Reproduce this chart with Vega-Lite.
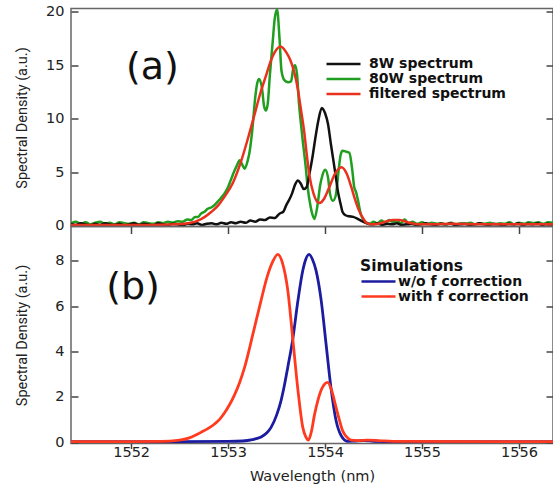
{
  "$schema": "https://vega.github.io/schema/vega-lite/v6.json",
  "background": "white",
  "padding": {"left": 13, "top": 2.5, "right": 0, "bottom": 0},
  "spacing": 0,
  "bounds": "flush",
  "config": {
    "view": {"stroke": "#666", "strokeWidth": 1.5},
    "axis": {"domain": false, "grid": false, "labelFont": "DejaVu Sans", "labelFontSize": 14.5, "labelColor": "#222", "titleFont": "Roboto", "titleFontSize": 14.5, "titleFontWeight": "normal", "titleColor": "#222", "tickColor": "#444", "tickWidth": 1.5}
  },
  "datasets": {
    "top": [
      {"w":1551.38,"v":0.2,"s":"80W spectrum"},{"w":1551.43,"v":0.35,"s":"80W spectrum"},{"w":1551.48,"v":0.15,"s":"80W spectrum"},{"w":1551.53,"v":0.3,"s":"80W spectrum"},{"w":1551.58,"v":0.1,"s":"80W spectrum"},{"w":1551.63,"v":0.25,"s":"80W spectrum"},{"w":1551.68,"v":0.35,"s":"80W spectrum"},{"w":1551.73,"v":0.15,"s":"80W spectrum"},{"w":1551.78,"v":0.25,"s":"80W spectrum"},{"w":1551.83,"v":0.1,"s":"80W spectrum"},{"w":1551.88,"v":0.3,"s":"80W spectrum"},{"w":1551.93,"v":0.2,"s":"80W spectrum"},{"w":1551.98,"v":0.15,"s":"80W spectrum"},{"w":1552.03,"v":0.25,"s":"80W spectrum"},{"w":1552.08,"v":0.1,"s":"80W spectrum"},{"w":1552.13,"v":0.3,"s":"80W spectrum"},{"w":1552.18,"v":0.2,"s":"80W spectrum"},{"w":1552.23,"v":0.15,"s":"80W spectrum"},{"w":1552.28,"v":0.3,"s":"80W spectrum"},{"w":1552.33,"v":0.2,"s":"80W spectrum"},{"w":1552.38,"v":0.35,"s":"80W spectrum"},{"w":1552.43,"v":0.25,"s":"80W spectrum"},{"w":1552.48,"v":0.4,"s":"80W spectrum"},{"w":1552.53,"v":0.35,"s":"80W spectrum"},{"w":1552.58,"v":0.55,"s":"80W spectrum"},{"w":1552.62,"v":0.5,"s":"80W spectrum"},{"w":1552.66,"v":0.8,"s":"80W spectrum"},{"w":1552.69,"v":0.8,"s":"80W spectrum"},{"w":1552.72,"v":1.1,"s":"80W spectrum"},{"w":1552.76,"v":1.3,"s":"80W spectrum"},{"w":1552.79,"v":1.56,"s":"80W spectrum"},{"w":1552.83,"v":1.7,"s":"80W spectrum"},{"w":1552.87,"v":2.0,"s":"80W spectrum"},{"w":1552.9,"v":2.3,"s":"80W spectrum"},{"w":1552.93,"v":2.6,"s":"80W spectrum"},{"w":1552.97,"v":3.1,"s":"80W spectrum"},{"w":1553.0,"v":3.6,"s":"80W spectrum"},{"w":1553.03,"v":4.3,"s":"80W spectrum"},{"w":1553.06,"v":5.0,"s":"80W spectrum"},{"w":1553.09,"v":5.6,"s":"80W spectrum"},{"w":1553.12,"v":6.1,"s":"80W spectrum"},{"w":1553.15,"v":5.6,"s":"80W spectrum"},{"w":1553.17,"v":5.3,"s":"80W spectrum"},{"w":1553.2,"v":6.0,"s":"80W spectrum"},{"w":1553.22,"v":6.8,"s":"80W spectrum"},{"w":1553.25,"v":9.0,"s":"80W spectrum"},{"w":1553.28,"v":12.0,"s":"80W spectrum"},{"w":1553.3,"v":13.3,"s":"80W spectrum"},{"w":1553.32,"v":13.7,"s":"80W spectrum"},{"w":1553.35,"v":12.8,"s":"80W spectrum"},{"w":1553.37,"v":11.2,"s":"80W spectrum"},{"w":1553.39,"v":10.75,"s":"80W spectrum"},{"w":1553.41,"v":11.5,"s":"80W spectrum"},{"w":1553.43,"v":14.0,"s":"80W spectrum"},{"w":1553.46,"v":17.2,"s":"80W spectrum"},{"w":1553.48,"v":19.3,"s":"80W spectrum"},{"w":1553.505,"v":20.2,"s":"80W spectrum"},{"w":1553.53,"v":17.5,"s":"80W spectrum"},{"w":1553.55,"v":14.5,"s":"80W spectrum"},{"w":1553.58,"v":13.6,"s":"80W spectrum"},{"w":1553.62,"v":13.4,"s":"80W spectrum"},{"w":1553.65,"v":13.5,"s":"80W spectrum"},{"w":1553.67,"v":14.6,"s":"80W spectrum"},{"w":1553.69,"v":15.0,"s":"80W spectrum"},{"w":1553.71,"v":14.2,"s":"80W spectrum"},{"w":1553.73,"v":11.5,"s":"80W spectrum"},{"w":1553.75,"v":9.6,"s":"80W spectrum"},{"w":1553.77,"v":7.9,"s":"80W spectrum"},{"w":1553.8,"v":5.5,"s":"80W spectrum"},{"w":1553.82,"v":3.6,"s":"80W spectrum"},{"w":1553.85,"v":1.8,"s":"80W spectrum"},{"w":1553.87,"v":1.0,"s":"80W spectrum"},{"w":1553.89,"v":0.6,"s":"80W spectrum"},{"w":1553.92,"v":1.8,"s":"80W spectrum"},{"w":1553.95,"v":3.8,"s":"80W spectrum"},{"w":1553.97,"v":4.6,"s":"80W spectrum"},{"w":1554.0,"v":5.2,"s":"80W spectrum"},{"w":1554.03,"v":4.5,"s":"80W spectrum"},{"w":1554.05,"v":3.0,"s":"80W spectrum"},{"w":1554.08,"v":2.3,"s":"80W spectrum"},{"w":1554.11,"v":2.8,"s":"80W spectrum"},{"w":1554.14,"v":5.2,"s":"80W spectrum"},{"w":1554.16,"v":6.6,"s":"80W spectrum"},{"w":1554.18,"v":7.0,"s":"80W spectrum"},{"w":1554.22,"v":6.9,"s":"80W spectrum"},{"w":1554.25,"v":6.8,"s":"80W spectrum"},{"w":1554.28,"v":5.2,"s":"80W spectrum"},{"w":1554.3,"v":3.6,"s":"80W spectrum"},{"w":1554.32,"v":3.1,"s":"80W spectrum"},{"w":1554.34,"v":2.3,"s":"80W spectrum"},{"w":1554.37,"v":1.0,"s":"80W spectrum"},{"w":1554.4,"v":0.5,"s":"80W spectrum"},{"w":1554.42,"v":0.3,"s":"80W spectrum"},{"w":1554.46,"v":0.15,"s":"80W spectrum"},{"w":1554.5,"v":0.35,"s":"80W spectrum"},{"w":1554.54,"v":0.2,"s":"80W spectrum"},{"w":1554.58,"v":0.45,"s":"80W spectrum"},{"w":1554.62,"v":0.25,"s":"80W spectrum"},{"w":1554.66,"v":0.5,"s":"80W spectrum"},{"w":1554.7,"v":0.3,"s":"80W spectrum"},{"w":1554.74,"v":0.45,"s":"80W spectrum"},{"w":1554.78,"v":0.2,"s":"80W spectrum"},{"w":1554.82,"v":0.55,"s":"80W spectrum"},{"w":1554.86,"v":0.2,"s":"80W spectrum"},{"w":1554.9,"v":0.35,"s":"80W spectrum"},{"w":1554.95,"v":0.15,"s":"80W spectrum"},{"w":1555.0,"v":0.3,"s":"80W spectrum"},{"w":1555.05,"v":0.1,"s":"80W spectrum"},{"w":1555.1,"v":0.25,"s":"80W spectrum"},{"w":1555.15,"v":0.15,"s":"80W spectrum"},{"w":1555.2,"v":0.2,"s":"80W spectrum"},{"w":1555.25,"v":0.1,"s":"80W spectrum"},{"w":1555.3,"v":0.25,"s":"80W spectrum"},{"w":1555.35,"v":0.1,"s":"80W spectrum"},{"w":1555.4,"v":0.2,"s":"80W spectrum"},{"w":1555.45,"v":0.15,"s":"80W spectrum"},{"w":1555.5,"v":0.25,"s":"80W spectrum"},{"w":1555.55,"v":0.1,"s":"80W spectrum"},{"w":1555.6,"v":0.2,"s":"80W spectrum"},{"w":1555.65,"v":0.15,"s":"80W spectrum"},{"w":1555.7,"v":0.25,"s":"80W spectrum"},{"w":1555.75,"v":0.1,"s":"80W spectrum"},{"w":1555.8,"v":0.2,"s":"80W spectrum"},{"w":1555.85,"v":0.15,"s":"80W spectrum"},{"w":1555.9,"v":0.3,"s":"80W spectrum"},{"w":1555.95,"v":0.1,"s":"80W spectrum"},{"w":1556.0,"v":0.25,"s":"80W spectrum"},{"w":1556.05,"v":0.15,"s":"80W spectrum"},{"w":1556.1,"v":0.3,"s":"80W spectrum"},{"w":1556.15,"v":0.2,"s":"80W spectrum"},{"w":1556.2,"v":0.3,"s":"80W spectrum"},{"w":1556.25,"v":0.15,"s":"80W spectrum"},{"w":1556.3,"v":0.3,"s":"80W spectrum"},{"w":1556.35,"v":0.25,"s":"80W spectrum"},

      {"w":1551.38,"v":0.15,"s":"8W spectrum"},{"w":1551.43,"v":0.05,"s":"8W spectrum"},{"w":1551.48,"v":0.2,"s":"8W spectrum"},{"w":1551.53,"v":0.1,"s":"8W spectrum"},{"w":1551.58,"v":0.0,"s":"8W spectrum"},{"w":1551.63,"v":0.15,"s":"8W spectrum"},{"w":1551.68,"v":0.05,"s":"8W spectrum"},{"w":1551.73,"v":0.2,"s":"8W spectrum"},{"w":1551.78,"v":0.1,"s":"8W spectrum"},{"w":1551.83,"v":0.05,"s":"8W spectrum"},{"w":1551.88,"v":0.15,"s":"8W spectrum"},{"w":1551.93,"v":0.0,"s":"8W spectrum"},{"w":1551.98,"v":0.1,"s":"8W spectrum"},{"w":1552.03,"v":0.2,"s":"8W spectrum"},{"w":1552.08,"v":0.05,"s":"8W spectrum"},{"w":1552.13,"v":0.15,"s":"8W spectrum"},{"w":1552.18,"v":0.1,"s":"8W spectrum"},{"w":1552.23,"v":0.0,"s":"8W spectrum"},{"w":1552.28,"v":0.2,"s":"8W spectrum"},{"w":1552.33,"v":0.1,"s":"8W spectrum"},{"w":1552.38,"v":0.05,"s":"8W spectrum"},{"w":1552.43,"v":0.15,"s":"8W spectrum"},{"w":1552.48,"v":0.1,"s":"8W spectrum"},{"w":1552.53,"v":0.0,"s":"8W spectrum"},{"w":1552.58,"v":0.15,"s":"8W spectrum"},{"w":1552.63,"v":0.1,"s":"8W spectrum"},{"w":1552.68,"v":0.2,"s":"8W spectrum"},{"w":1552.73,"v":0.05,"s":"8W spectrum"},{"w":1552.78,"v":0.15,"s":"8W spectrum"},{"w":1552.83,"v":0.2,"s":"8W spectrum"},{"w":1552.88,"v":0.1,"s":"8W spectrum"},{"w":1552.93,"v":0.25,"s":"8W spectrum"},{"w":1552.98,"v":0.15,"s":"8W spectrum"},{"w":1553.03,"v":0.3,"s":"8W spectrum"},{"w":1553.08,"v":0.2,"s":"8W spectrum"},{"w":1553.13,"v":0.35,"s":"8W spectrum"},{"w":1553.18,"v":0.25,"s":"8W spectrum"},{"w":1553.23,"v":0.45,"s":"8W spectrum"},{"w":1553.28,"v":0.35,"s":"8W spectrum"},{"w":1553.33,"v":0.55,"s":"8W spectrum"},{"w":1553.38,"v":0.5,"s":"8W spectrum"},{"w":1553.43,"v":0.75,"s":"8W spectrum"},{"w":1553.48,"v":0.7,"s":"8W spectrum"},{"w":1553.53,"v":1.1,"s":"8W spectrum"},{"w":1553.57,"v":1.3,"s":"8W spectrum"},{"w":1553.6,"v":1.9,"s":"8W spectrum"},{"w":1553.63,"v":2.4,"s":"8W spectrum"},{"w":1553.66,"v":3.0,"s":"8W spectrum"},{"w":1553.69,"v":3.8,"s":"8W spectrum"},{"w":1553.72,"v":4.2,"s":"8W spectrum"},{"w":1553.75,"v":3.9,"s":"8W spectrum"},{"w":1553.78,"v":3.4,"s":"8W spectrum"},{"w":1553.81,"v":3.6,"s":"8W spectrum"},{"w":1553.84,"v":4.9,"s":"8W spectrum"},{"w":1553.87,"v":6.4,"s":"8W spectrum"},{"w":1553.9,"v":8.2,"s":"8W spectrum"},{"w":1553.93,"v":9.8,"s":"8W spectrum"},{"w":1553.966,"v":11.0,"s":"8W spectrum"},{"w":1554.0,"v":10.5,"s":"8W spectrum"},{"w":1554.03,"v":9.5,"s":"8W spectrum"},{"w":1554.06,"v":7.6,"s":"8W spectrum"},{"w":1554.08,"v":6.4,"s":"8W spectrum"},{"w":1554.11,"v":4.6,"s":"8W spectrum"},{"w":1554.13,"v":3.3,"s":"8W spectrum"},{"w":1554.16,"v":2.0,"s":"8W spectrum"},{"w":1554.18,"v":1.25,"s":"8W spectrum"},{"w":1554.21,"v":0.95,"s":"8W spectrum"},{"w":1554.25,"v":0.85,"s":"8W spectrum"},{"w":1554.29,"v":0.8,"s":"8W spectrum"},{"w":1554.34,"v":0.6,"s":"8W spectrum"},{"w":1554.39,"v":0.35,"s":"8W spectrum"},{"w":1554.44,"v":0.15,"s":"8W spectrum"},{"w":1554.49,"v":0.1,"s":"8W spectrum"},{"w":1554.54,"v":0.2,"s":"8W spectrum"},{"w":1554.59,"v":0.05,"s":"8W spectrum"},{"w":1554.64,"v":0.15,"s":"8W spectrum"},{"w":1554.69,"v":0.1,"s":"8W spectrum"},{"w":1554.74,"v":0.2,"s":"8W spectrum"},{"w":1554.79,"v":0.05,"s":"8W spectrum"},{"w":1554.84,"v":0.1,"s":"8W spectrum"},{"w":1554.89,"v":0.15,"s":"8W spectrum"},{"w":1554.94,"v":0.05,"s":"8W spectrum"},{"w":1554.99,"v":0.1,"s":"8W spectrum"},{"w":1555.04,"v":0.2,"s":"8W spectrum"},{"w":1555.09,"v":0.1,"s":"8W spectrum"},{"w":1555.14,"v":0.05,"s":"8W spectrum"},{"w":1555.19,"v":0.15,"s":"8W spectrum"},{"w":1555.24,"v":0.1,"s":"8W spectrum"},{"w":1555.29,"v":0.2,"s":"8W spectrum"},{"w":1555.34,"v":0.05,"s":"8W spectrum"},{"w":1555.39,"v":0.1,"s":"8W spectrum"},{"w":1555.44,"v":0.15,"s":"8W spectrum"},{"w":1555.49,"v":0.05,"s":"8W spectrum"},{"w":1555.54,"v":0.1,"s":"8W spectrum"},{"w":1555.59,"v":0.2,"s":"8W spectrum"},{"w":1555.64,"v":0.1,"s":"8W spectrum"},{"w":1555.69,"v":0.05,"s":"8W spectrum"},{"w":1555.74,"v":0.15,"s":"8W spectrum"},{"w":1555.79,"v":0.1,"s":"8W spectrum"},{"w":1555.84,"v":0.0,"s":"8W spectrum"},{"w":1555.89,"v":0.15,"s":"8W spectrum"},{"w":1555.94,"v":0.1,"s":"8W spectrum"},{"w":1555.99,"v":0.2,"s":"8W spectrum"},{"w":1556.04,"v":0.05,"s":"8W spectrum"},{"w":1556.09,"v":0.15,"s":"8W spectrum"},{"w":1556.14,"v":0.1,"s":"8W spectrum"},{"w":1556.19,"v":0.2,"s":"8W spectrum"},{"w":1556.24,"v":0.05,"s":"8W spectrum"},{"w":1556.29,"v":0.15,"s":"8W spectrum"},{"w":1556.35,"v":0.1,"s":"8W spectrum"},

      {"w":1551.38,"v":0.05,"s":"filtered spectrum"},{"w":1551.8,"v":0.05,"s":"filtered spectrum"},{"w":1552.2,"v":0.05,"s":"filtered spectrum"},{"w":1552.4,"v":0.08,"s":"filtered spectrum"},{"w":1552.5,"v":0.13,"s":"filtered spectrum"},{"w":1552.6,"v":0.22,"s":"filtered spectrum"},{"w":1552.7,"v":0.5,"s":"filtered spectrum"},{"w":1552.76,"v":0.8,"s":"filtered spectrum"},{"w":1552.825,"v":1.25,"s":"filtered spectrum"},{"w":1552.9,"v":1.9,"s":"filtered spectrum"},{"w":1552.96,"v":2.65,"s":"filtered spectrum"},{"w":1553.05,"v":4.0,"s":"filtered spectrum"},{"w":1553.13,"v":5.9,"s":"filtered spectrum"},{"w":1553.2,"v":8.0,"s":"filtered spectrum"},{"w":1553.27,"v":10.3,"s":"filtered spectrum"},{"w":1553.33,"v":12.3,"s":"filtered spectrum"},{"w":1553.39,"v":14.0,"s":"filtered spectrum"},{"w":1553.44,"v":15.4,"s":"filtered spectrum"},{"w":1553.48,"v":16.2,"s":"filtered spectrum"},{"w":1553.54,"v":16.75,"s":"filtered spectrum"},{"w":1553.6,"v":16.2,"s":"filtered spectrum"},{"w":1553.64,"v":15.5,"s":"filtered spectrum"},{"w":1553.68,"v":14.4,"s":"filtered spectrum"},{"w":1553.72,"v":12.7,"s":"filtered spectrum"},{"w":1553.75,"v":10.9,"s":"filtered spectrum"},{"w":1553.787,"v":8.6,"s":"filtered spectrum"},{"w":1553.81,"v":6.7,"s":"filtered spectrum"},{"w":1553.84,"v":4.6,"s":"filtered spectrum"},{"w":1553.88,"v":3.0,"s":"filtered spectrum"},{"w":1553.94,"v":2.1,"s":"filtered spectrum"},{"w":1553.99,"v":2.5,"s":"filtered spectrum"},{"w":1554.04,"v":3.5,"s":"filtered spectrum"},{"w":1554.1,"v":4.8,"s":"filtered spectrum"},{"w":1554.17,"v":5.45,"s":"filtered spectrum"},{"w":1554.22,"v":4.9,"s":"filtered spectrum"},{"w":1554.27,"v":3.6,"s":"filtered spectrum"},{"w":1554.31,"v":2.4,"s":"filtered spectrum"},{"w":1554.35,"v":1.4,"s":"filtered spectrum"},{"w":1554.39,"v":0.7,"s":"filtered spectrum"},{"w":1554.42,"v":0.3,"s":"filtered spectrum"},{"w":1554.47,"v":0.1,"s":"filtered spectrum"},{"w":1554.55,"v":0.15,"s":"filtered spectrum"},{"w":1554.62,"v":0.35,"s":"filtered spectrum"},{"w":1554.7,"v":0.52,"s":"filtered spectrum"},{"w":1554.77,"v":0.5,"s":"filtered spectrum"},{"w":1554.85,"v":0.3,"s":"filtered spectrum"},{"w":1554.95,"v":0.12,"s":"filtered spectrum"},{"w":1555.1,"v":0.1,"s":"filtered spectrum"},{"w":1555.3,"v":0.15,"s":"filtered spectrum"},{"w":1555.6,"v":0.1,"s":"filtered spectrum"},{"w":1556.35,"v":0.1,"s":"filtered spectrum"}
    ],
    "bottom": [
      {"w":1551.38,"v":0.03,"s":"w/o f correction"},{"w":1552.5,"v":0.03,"s":"w/o f correction"},{"w":1553.0,"v":0.04,"s":"w/o f correction"},{"w":1553.15,"v":0.06,"s":"w/o f correction"},{"w":1553.25,"v":0.12,"s":"w/o f correction"},{"w":1553.34,"v":0.24,"s":"w/o f correction"},{"w":1553.4,"v":0.42,"s":"w/o f correction"},{"w":1553.443,"v":0.66,"s":"w/o f correction"},{"w":1553.5,"v":1.2,"s":"w/o f correction"},{"w":1553.546,"v":1.84,"s":"w/o f correction"},{"w":1553.58,"v":2.5,"s":"w/o f correction"},{"w":1553.615,"v":3.3,"s":"w/o f correction"},{"w":1553.667,"v":4.55,"s":"w/o f correction"},{"w":1553.72,"v":6.24,"s":"w/o f correction"},{"w":1553.77,"v":7.56,"s":"w/o f correction"},{"w":1553.8,"v":8.05,"s":"w/o f correction"},{"w":1553.835,"v":8.27,"s":"w/o f correction"},{"w":1553.87,"v":8.05,"s":"w/o f correction"},{"w":1553.907,"v":7.56,"s":"w/o f correction"},{"w":1553.96,"v":6.24,"s":"w/o f correction"},{"w":1554.01,"v":4.33,"s":"w/o f correction"},{"w":1554.06,"v":2.42,"s":"w/o f correction"},{"w":1554.113,"v":0.96,"s":"w/o f correction"},{"w":1554.165,"v":0.3,"s":"w/o f correction"},{"w":1554.23,"v":0.05,"s":"w/o f correction"},{"w":1554.3,"v":0.06,"s":"w/o f correction"},{"w":1554.4,"v":0.08,"s":"w/o f correction"},{"w":1554.5,"v":0.05,"s":"w/o f correction"},{"w":1554.7,"v":0.03,"s":"w/o f correction"},{"w":1556.35,"v":0.03,"s":"w/o f correction"},

      {"w":1551.38,"v":0.03,"s":"with f correction"},{"w":1552.0,"v":0.03,"s":"with f correction"},{"w":1552.3,"v":0.04,"s":"with f correction"},{"w":1552.5,"v":0.1,"s":"with f correction"},{"w":1552.6,"v":0.2,"s":"with f correction"},{"w":1552.72,"v":0.44,"s":"with f correction"},{"w":1552.86,"v":0.81,"s":"with f correction"},{"w":1552.91,"v":1.0,"s":"with f correction"},{"w":1552.96,"v":1.28,"s":"with f correction"},{"w":1553.01,"v":1.62,"s":"with f correction"},{"w":1553.065,"v":2.08,"s":"with f correction"},{"w":1553.12,"v":2.65,"s":"with f correction"},{"w":1553.17,"v":3.3,"s":"with f correction"},{"w":1553.255,"v":4.75,"s":"with f correction"},{"w":1553.34,"v":6.25,"s":"with f correction"},{"w":1553.4,"v":7.25,"s":"with f correction"},{"w":1553.46,"v":7.95,"s":"with f correction"},{"w":1553.512,"v":8.27,"s":"with f correction"},{"w":1553.56,"v":7.9,"s":"with f correction"},{"w":1553.615,"v":6.7,"s":"with f correction"},{"w":1553.667,"v":4.55,"s":"with f correction"},{"w":1553.72,"v":2.3,"s":"with f correction"},{"w":1553.77,"v":0.66,"s":"with f correction"},{"w":1553.8,"v":0.25,"s":"with f correction"},{"w":1553.828,"v":0.1,"s":"with f correction"},{"w":1553.86,"v":0.5,"s":"with f correction"},{"w":1553.89,"v":1.2,"s":"with f correction"},{"w":1553.925,"v":1.84,"s":"with f correction"},{"w":1553.97,"v":2.4,"s":"with f correction"},{"w":1554.027,"v":2.64,"s":"with f correction"},{"w":1554.07,"v":2.25,"s":"with f correction"},{"w":1554.113,"v":1.54,"s":"with f correction"},{"w":1554.15,"v":0.95,"s":"with f correction"},{"w":1554.18,"v":0.52,"s":"with f correction"},{"w":1554.22,"v":0.25,"s":"with f correction"},{"w":1554.268,"v":0.1,"s":"with f correction"},{"w":1554.33,"v":0.08,"s":"with f correction"},{"w":1554.44,"v":0.1,"s":"with f correction"},{"w":1554.55,"v":0.08,"s":"with f correction"},{"w":1554.7,"v":0.04,"s":"with f correction"},{"w":1556.35,"v":0.03,"s":"with f correction"}
    ]
  },
  "vconcat": [
    {
      "width": 482,
      "height": 218,
      "layer": [
        {
          "data": {"name": "top"},
          "transform": [{"filter": "datum.s !== 'filtered spectrum'"}],
          "mark": {"type": "line", "strokeWidth": 2.5, "interpolate": "monotone", "clip": true},
          "encoding": {
            "x": {"field": "w", "type": "quantitative", "scale": {"domain": [1551.38, 1556.35], "nice": false, "zero": false},
                  "axis": {"orient": "top", "values": [1552, 1553, 1554, 1555, 1556], "labels": false, "title": null, "tickSize": -7}},
            "y": {"field": "v", "type": "quantitative", "scale": {"domain": [-0.1, 20.3], "nice": false, "zero": false},
                  "axis": {"orient": "left", "values": [0, 5, 10, 15, 20], "title": "Spectral Density (a.u.)", "tickSize": -7, "labelPadding": 14, "minExtent": 30, "maxExtent": 30, "titlePadding": 12}},
            "color": {"field": "s", "type": "nominal",
                      "scale": {"domain": ["8W spectrum", "80W spectrum", "filtered spectrum"], "range": ["#111111", "#1f9e1f", "#e8321e"]},
                      "legend": {"orient": "none", "legendX": 254, "legendY": 48, "title": null, "padding": 0, "symbolType": "M-1,0L4.667,0", "symbolSize": 144, "symbolStrokeWidth": 2.5, "labelFont": "DejaVu Sans", "labelFontWeight": "bold", "labelFontSize": 14, "labelColor": "#111", "labelOffset": 29, "labelLimit": 300, "rowPadding": -2}}
          }
        },
        {
          "data": {"name": "top"},
          "transform": [{"filter": "datum.s === 'filtered spectrum'"}],
          "mark": {"type": "line", "strokeWidth": 2.5, "interpolate": "monotone", "clip": true},
          "encoding": {
            "x": {"field": "w", "type": "quantitative", "axis": null},
            "y": {"field": "v", "type": "quantitative",
                  "axis": {"orient": "right", "values": [0, 5, 10, 15, 20], "labels": false, "title": null, "tickSize": -7}},
            "color": {"field": "s", "type": "nominal",
                      "scale": {"domain": ["8W spectrum", "80W spectrum", "filtered spectrum"], "range": ["#111111", "#1f9e1f", "#e8321e"]}}
          }
        },
        {
          "data": {"values": [{"t": "(a)"}]},
          "mark": {"type": "text", "font": "DejaVu Sans", "fontSize": 38, "color": "#111", "align": "center", "baseline": "middle"},
          "encoding": {
            "x": {"datum": 1552.22, "type": "quantitative", "axis": null},
            "y": {"datum": 14.7, "type": "quantitative", "axis": null},
            "text": {"field": "t"}
          }
        }
      ],
      "resolve": {"axis": {"y": "independent"}}
    },
    {
      "width": 482,
      "height": 217,
      "layer": [
        {
          "data": {"name": "bottom"},
          "transform": [{"filter": "datum.s === 'w/o f correction'"}],
          "mark": {"type": "line", "strokeWidth": 2.8, "interpolate": "monotone", "clip": true},
          "encoding": {
            "x": {"field": "w", "type": "quantitative", "scale": {"domain": [1551.38, 1556.35], "nice": false, "zero": false},
                  "axis": {"orient": "bottom", "values": [1552, 1553, 1554, 1555, 1556], "format": "d", "tickSize": 5, "labelPadding": -3, "title": "Wavelength (nm)", "titleFont": "DejaVu Sans", "titleFontSize": 14.5, "titlePadding": 10}},
            "y": {"field": "v", "type": "quantitative", "scale": {"domain": [-0.05, 9.5], "nice": false, "zero": false},
                  "axis": {"orient": "left", "values": [0, 2, 4, 6, 8], "title": "Spectral Density (a.u.)", "tickSize": -7, "labelPadding": 14, "minExtent": 30, "maxExtent": 30, "titlePadding": 12}},
            "color": {"field": "s", "type": "nominal",
                      "scale": {"domain": ["w/o f correction", "with f correction"], "range": ["#1c1ca0", "#ff3a1f"]},
                      "legend": {"orient": "none", "legendX": 289, "legendY": 32, "title": "Simulations", "titleFont": "DejaVu Sans", "titleFontWeight": "bold", "titleFontSize": 15.5, "titleColor": "#111", "titlePadding": 0, "padding": 0, "symbolType": "M-1,0L4.667,0", "symbolSize": 144, "symbolStrokeWidth": 2.5, "labelFont": "DejaVu Sans", "labelFontWeight": "bold", "labelFontSize": 14, "labelColor": "#111", "labelOffset": 23, "labelLimit": 300, "rowPadding": 0}}
          }
        },
        {
          "data": {"name": "bottom"},
          "transform": [{"filter": "datum.s === 'with f correction'"}],
          "mark": {"type": "line", "strokeWidth": 2.8, "interpolate": "monotone", "clip": true},
          "encoding": {
            "x": {"field": "w", "type": "quantitative",
                  "axis": {"orient": "top", "values": [1552, 1553, 1554, 1555, 1556], "labels": false, "title": null, "tickSize": -7}},
            "y": {"field": "v", "type": "quantitative",
                  "axis": {"orient": "right", "values": [0, 2, 4, 6, 8], "labels": false, "title": null, "tickSize": -7}},
            "color": {"field": "s", "type": "nominal",
                      "scale": {"domain": ["w/o f correction", "with f correction"], "range": ["#1c1ca0", "#ff3a1f"]}}
          }
        },
        {
          "data": {"values": [{"t": "(b)"}]},
          "mark": {"type": "text", "font": "DejaVu Sans", "fontSize": 38, "color": "#111", "align": "center", "baseline": "middle"},
          "encoding": {
            "x": {"datum": 1552.02, "type": "quantitative", "axis": null},
            "y": {"datum": 6.8, "type": "quantitative", "axis": null},
            "text": {"field": "t"}
          }
        }
      ],
      "resolve": {"axis": {"x": "independent", "y": "independent"}}
    }
  ],
  "resolve": {"scale": {"color": "independent"}, "legend": {"color": "independent"}}
}
